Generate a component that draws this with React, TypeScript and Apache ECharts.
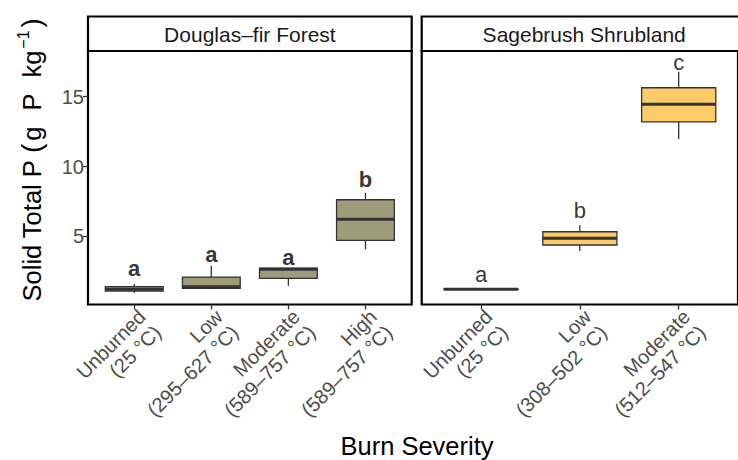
import React, { useEffect, useRef } from "react";
import * as echarts from "echarts";

// ---- data ----
const douglasCategories = ["Unburned\n(25 °C)", "Low\n(295–627 °C)", "Moderate\n(589–757 °C)", "High\n(589–757 °C)"];
const sageCategories = ["Unburned\n(25 °C)", "Low\n(308–502 °C)", "Moderate\n(512–547 °C)"];

// [min, Q1, median, Q3, max]
const douglasBoxes = [
  [0.94, 1.08, 1.22, 1.40, 1.58],
  [1.22, 1.27, 1.39, 2.08, 2.89],
  [1.46, 1.99, 2.64, 2.73, 2.73],
  [4.07, 4.71, 6.22, 7.62, 8.12],
];
const sageBoxes = [
  [1.20, 1.20, 1.22, 1.24, 1.24],
  [3.95, 4.38, 4.86, 5.33, 5.79],
  [11.97, 13.19, 14.46, 15.64, 16.79],
];

const douglasLetters = ["a", "a", "a", "b"];
const douglasLetterY = [2.69, 3.73, 3.48, 9.1];
const sageLetters = ["a", "b", "c"];
const sageLetterY = [2.29, 6.83, 17.46];

const yTicks = [5, 10, 15];
const panelTitles = ["Douglas–fir Forest", "Sagebrush Shrubland"];

const FONT = "'Liberation Sans', Arial, Helvetica, sans-serif";

function boxRender(fill: string) {
  return (params: any, api: any) => {
    const x = api.value(0);
    const lo = api.coord([x, api.value(1)]);
    const q1 = api.coord([x, api.value(2)]);
    const med = api.coord([x, api.value(3)]);
    const q3 = api.coord([x, api.value(4)]);
    const hi = api.coord([x, api.value(5)]);
    const hw = api.size([0.75, 0])[0] / 2;
    const cx = lo[0];
    const ls = { stroke: "#333333", lineWidth: 1.3 };
    return {
      type: "group",
      children: [
        { type: "line", shape: { x1: cx, y1: q1[1], x2: cx, y2: lo[1] }, style: ls },
        { type: "line", shape: { x1: cx, y1: q3[1], x2: cx, y2: hi[1] }, style: ls },
        {
          type: "rect",
          shape: { x: cx - hw, y: q3[1], width: 2 * hw, height: q1[1] - q3[1] },
          style: { fill, stroke: "#333333", lineWidth: 1.3 },
        },
        {
          type: "line",
          shape: { x1: cx - hw, y1: med[1], x2: cx + hw, y2: med[1] },
          style: { stroke: "#333333", lineWidth: 3 },
        },
      ],
    };
  };
}

export default function App() {
  const ref = useRef<HTMLDivElement>(null);
  useEffect(() => {
    if (!ref.current) return;
    const chart = echarts.init(ref.current, undefined, { renderer: "svg" });
    const top = 51;
    const height = 253.5;
    const yMin = 0.12;
    const yMax = 18.27;
    const xAxisCommon = (cats: string[], max: number) => ({
      type: "value",
      min: -0.6,
      max,
      axisLine: { show: false, onZero: false },
      splitLine: { show: false },
      axisTick: {
        show: true,
        customValues: cats.map((_, i) => i),
        length: 5,
        lineStyle: { color: "#333333", width: 1.3 },
      },
      axisLabel: {
        customValues: cats.map((_, i) => i),
        formatter: (v: number) => cats[Math.round(v)],
        rotate: 45,
        align: "right",
        verticalAlign: "top",
        margin: 1,
        fontSize: 20,
        lineHeight: 22,
        color: "#4D4D4D",
        fontFamily: FONT,
      },
    });
    const yAxisCommon = (showLabels: boolean, gridIndex: number) => ({
      type: "value",
      gridIndex,
      min: yMin,
      max: yMax,
      axisLine: { show: false, onZero: false },
      splitLine: { show: false },
      axisTick: {
        show: showLabels,
        customValues: yTicks,
        length: 5,
        lineStyle: { color: "#333333", width: 1.3 },
      },
      axisLabel: {
        show: showLabels,
        customValues: yTicks,
        fontSize: 20,
        margin: 4,
        color: "#4D4D4D",
        fontFamily: FONT,
      },
    });
    const titleN = { fontSize: 25.5, fill: "#000", fontFamily: FONT, verticalAlign: "bottom", lineHeight: 30 };
    const option: any = {
      animation: false,
      textStyle: { fontFamily: FONT },
      grid: [
        { left: 88, top, width: 323.7, height, show: true, borderColor: "#000", borderWidth: 2.2, backgroundColor: "transparent" },
        { left: 421.7, top, width: 324.9, height, show: true, borderColor: "#000", borderWidth: 2.2, backgroundColor: "transparent" },
      ],
      xAxis: [
        { ...xAxisCommon(douglasCategories, 3.6), gridIndex: 0 },
        { ...xAxisCommon(sageCategories, 2.6), gridIndex: 1 },
      ],
      yAxis: [yAxisCommon(true, 0), yAxisCommon(false, 1)],
      series: [
        {
          type: "custom",
          xAxisIndex: 0,
          yAxisIndex: 0,
          renderItem: boxRender("#9D9B78"),
          data: douglasBoxes.map((b, i) => [i, ...b]),
        },
        {
          type: "custom",
          xAxisIndex: 1,
          yAxisIndex: 1,
          renderItem: boxRender("#FECB69"),
          data: sageBoxes.map((b, i) => [i, ...b]),
        },
        {
          type: "scatter",
          xAxisIndex: 0,
          yAxisIndex: 0,
          symbolSize: 0,
          data: douglasLetterY.map((y, i) => [i, y]),
          label: {
            show: true,
            position: "inside",
            formatter: (p: any) => douglasLetters[p.dataIndex],
            fontSize: 22,
            fontWeight: "bold",
            color: "#000",
            fontFamily: FONT,
          },
        },
        {
          type: "scatter",
          xAxisIndex: 1,
          yAxisIndex: 1,
          symbolSize: 0,
          data: sageLetterY.map((y, i) => [i, y]),
          label: {
            show: true,
            position: "inside",
            formatter: (p: any) => sageLetters[p.dataIndex],
            fontSize: 22,
            color: "#000",
            fontFamily: FONT,
          },
        },
      ],
      graphic: [
        {
          type: "rect",
          shape: { x: 88, y: 16.5, width: 323.7, height: 34.5 },
          style: { fill: "#fff", stroke: "#000", lineWidth: 2.2 },
        },
        {
          type: "rect",
          shape: { x: 421.7, y: 16.5, width: 324.9, height: 34.5 },
          style: { fill: "#fff", stroke: "#000", lineWidth: 2.2 },
        },
        {
          type: "text",
          x: 249.9,
          y: 34,
          style: { text: panelTitles[0], align: "center", verticalAlign: "middle", fontSize: 21, fill: "#1A1A1A", fontFamily: FONT },
        },
        {
          type: "text",
          x: 584.2,
          y: 34,
          style: { text: panelTitles[1], align: "center", verticalAlign: "middle", fontSize: 21, fill: "#1A1A1A", fontFamily: FONT },
        },
        {
          type: "text",
          x: 417,
          y: 446,
          style: { text: "Burn Severity", align: "center", verticalAlign: "middle", fontSize: 25.5, fill: "#000", fontFamily: FONT },
        },
        {
          type: "text",
          x: 30,
          y: 160,
          rotation: Math.PI / 2,
          style: {
            text: "{n|Solid Total P }{p|(}{g|g}{sp| }{n|P}{sp| }{n|kg}{s|−1}{q|)}",
            align: "center",
            verticalAlign: "middle",
            fill: "#000",
            fontFamily: FONT,
            rich: {
              n: titleN,
              g: { ...titleN, padding: [0, 0, 0, 3] },
              sp: { ...titleN, width: 16 },
              p: { fontSize: 28, fill: "#000", fontFamily: FONT, verticalAlign: "bottom", lineHeight: 30, padding: [0, 0, 0, 0] },
              q: { fontSize: 28, fill: "#000", fontFamily: FONT, verticalAlign: "bottom", lineHeight: 30, padding: [0, 0, 0, 3] },
              s: { fontSize: 16, fill: "#000", fontFamily: FONT, verticalAlign: "top", lineHeight: 30, padding: [0, 0, 0, 2] },
            },
          },
        },
      ],
    };
    chart.setOption(option);
    return () => chart.dispose();
  }, []);
  return (
    <div
      ref={ref}
      style={{ position: "absolute", left: 0, top: 0, width: 738, height: 460, background: "#fff" }}
    />
  );
}
